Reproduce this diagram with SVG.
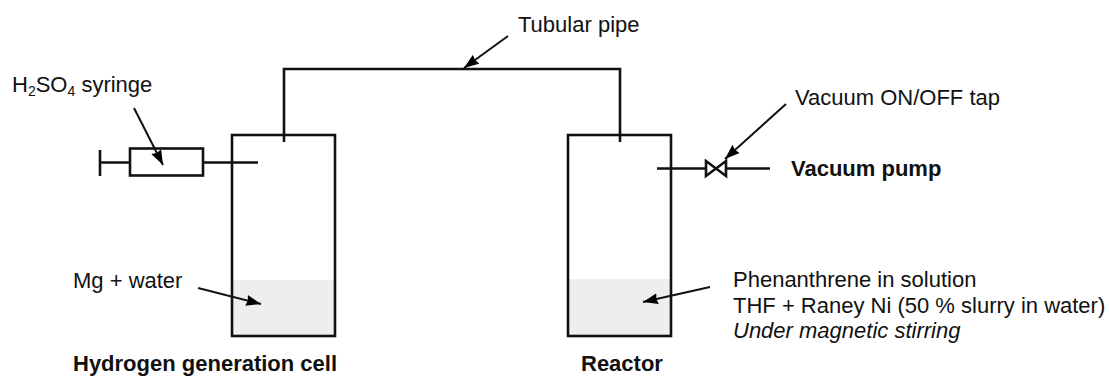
<svg xmlns="http://www.w3.org/2000/svg" width="1109" height="376" viewBox="0 0 1109 376">
<defs>
<marker id="ah" markerUnits="userSpaceOnUse" markerWidth="17" markerHeight="12" refX="15" refY="5.500" orient="auto"><path d="M0 0L15 5.500L0 11L1.500 5.500Z" fill="#000"/></marker>
</defs>
<style>
text{font-family:"Liberation Sans",Arial,sans-serif;font-size:22px;fill:#111}
.b{font-weight:700}
.l{fill:none;stroke:#111;stroke-width:2.600}
.c{fill:none;stroke:#111;stroke-width:2}
.liq{fill:#eeeeee}
</style>
<rect width="1109" height="376" fill="#fff"/>
<g id="hydrogen-cell">
<rect class="liq" x="232" y="280" width="103" height="56"/>
<rect class="l" x="232" y="135" width="103" height="201"/>
<text class="b" x="73" y="371">Hydrogen generation cell</text>
<text x="73" y="288">Mg + water</text>
</g>
<g id="reactor">
<rect class="liq" x="568" y="279" width="103" height="57"/>
<rect class="l" x="568" y="135" width="103" height="201"/>
<text class="b" x="581" y="371">Reactor</text>
<text x="733" y="287">Phenanthrene in solution</text>
<text x="733" y="313">THF + Raney Ni (50 % slurry in water)</text>
<text x="733" y="338" font-style="italic">Under magnetic stirring</text>
</g>
<g id="syringe">
<rect class="l" x="130" y="148.500" width="73" height="27"/>
<path class="l" d="M100 150V176M100 162.500H130M203 162.500H258"/>
<text x="12" y="92">H<tspan font-size="14" dy="4">2</tspan><tspan dy="-4">SO</tspan><tspan font-size="14" dy="4">4</tspan><tspan dy="-4"> syringe</tspan></text>
</g>
<g id="tap">
<path class="l" d="M657 168.500H706M726 168.500H770M706 161V176L726 161V176Z"/>
<text x="795" y="105">Vacuum ON/OFF tap</text>
</g>
<g id="vacuum-pump"><text class="b" x="791" y="176">Vacuum pump</text></g>
<g id="pipe">
<path class="l" d="M284 142V69H620V142"/>
<text x="518" y="32">Tubular pipe</text>
</g>
<g id="connectors">
<path class="c" marker-end="url(#ah)" d="M134 108L163 165"/>
<path class="c" marker-end="url(#ah)" d="M508 36L464 68"/>
<path class="c" marker-end="url(#ah)" d="M786 104L725 159"/>
<path class="c" marker-end="url(#ah)" d="M198 288L261 304"/>
<path class="c" marker-end="url(#ah)" d="M710 287L643 302"/>
</g>
</svg>
